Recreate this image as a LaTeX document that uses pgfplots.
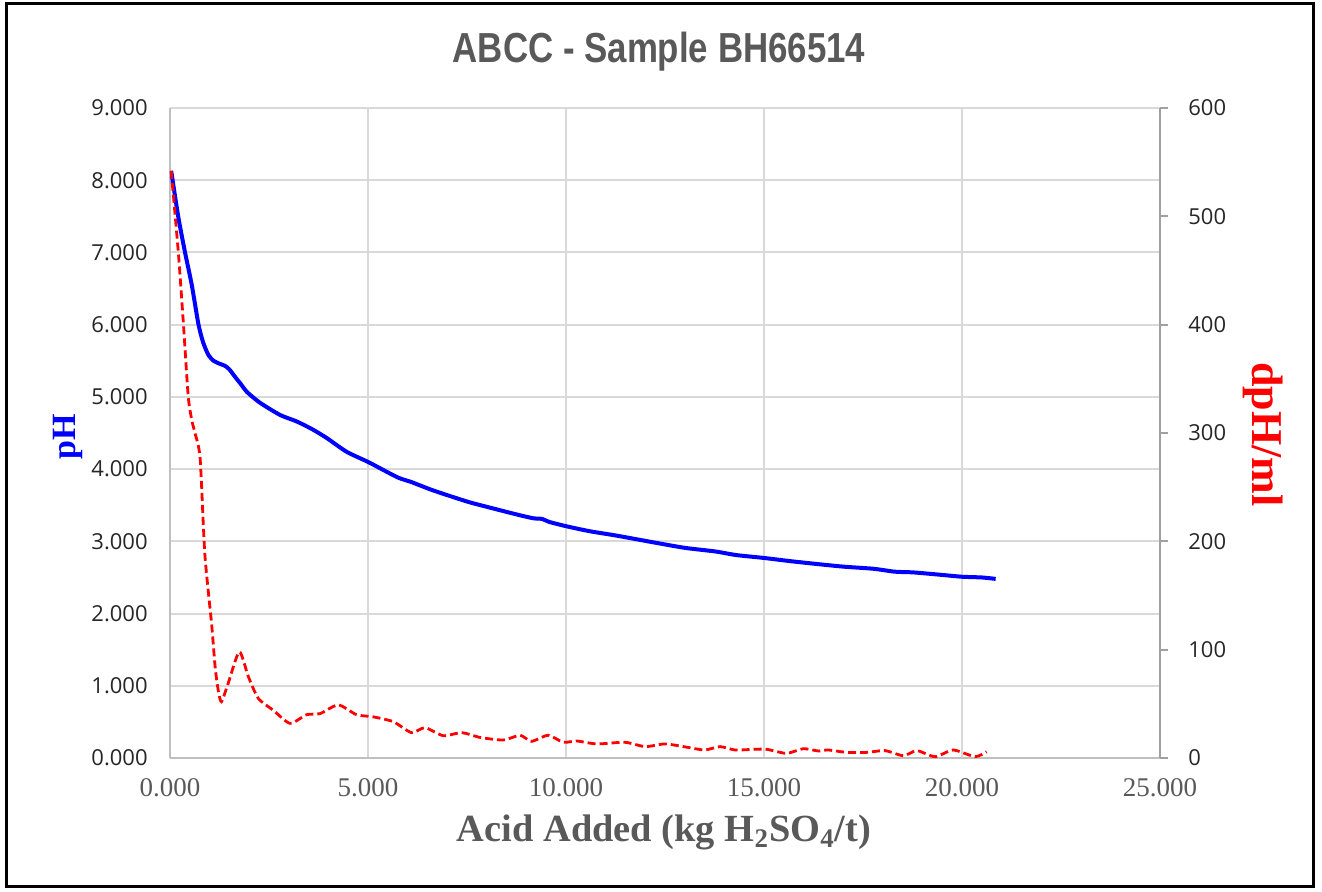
\documentclass[border=0pt]{standalone}
\usepackage{fontspec}
\setmainfont{Liberation Serif}
\newfontfamily\ticksans{Open Sans}
\newfontfamily\titlefont[FakeStretch=0.83]{Liberation Sans}
\usepackage{pgfplots}
\pgfplotsset{compat=1.18}

\definecolor{gridgray}{HTML}{D9D9D9}
\definecolor{axisgray}{HTML}{BFBFBF}
\definecolor{rightgray}{HTML}{A0A0A0}
\definecolor{textgray}{HTML}{595959}
\definecolor{tickdark}{HTML}{262626}

\begin{document}
\begin{tikzpicture}
\useasboundingbox (-85pt,-66.5pt) rectangle (576pt,379pt);
\draw[line width=1.5pt] (-81.5pt,-64pt) rectangle (571.5pt,377pt);

% primary axis: pH
\begin{axis}[
    at={(0,0)}, anchor=south west,
    width=495pt, height=325pt, scale only axis,
    xmin=0, xmax=25, ymin=0, ymax=9,
    xtick={0,5,...,25}, ytick={0,1,...,9},
    grid=major, grid style={gridgray, line width=1pt},
    axis x line*=bottom, axis y line*=left,
    axis line style={axisgray, line width=1pt, -},
    major tick length=0pt,
    /pgf/number format/assume math mode=true,
    xticklabel style={font=\fontsize{13.5}{15}\selectfont, text=textgray,
        anchor=north, inner sep=0pt, yshift=-10pt,
        /pgf/number format/.cd, fixed, fixed zerofill, precision=3},
    yticklabel style={font=\ticksans\fontsize{11}{13}\selectfont, text=tickdark,
        anchor=east, inner sep=0pt, xshift=-11pt,
        /pgf/number format/.cd, fixed, fixed zerofill, precision=3},
    title={ABCC - Sample BH66514},
    title style={font=\titlefont\bfseries\fontsize{21}{24}\selectfont, text=textgray,
        at={(axis description cs:0.494,1.086)}, anchor=center, yshift=0pt},
    every axis title shift=0pt,
    xlabel={Acid Added (kg H\textsubscript{2}SO\textsubscript{4}/t)},
    xlabel style={font=\bfseries\fontsize{19.2}{22}\selectfont, text=textgray,
        at={(axis description cs:0.499,-0.114)}, anchor=center},
    ylabel={pH},
    ylabel style={font=\bfseries\fontsize{17}{20}\selectfont, text=blue,
        at={(axis description cs:-0.103,0.494)}, anchor=center},
]
\addplot[color=blue, line width=2pt, smooth, tension=0.4] coordinates {
    (0.03,8.13) (0.21,7.49) (0.38,7.00) (0.55,6.55) (0.72,6.00)
    (0.84,5.75) (0.97,5.58) (1.10,5.50) (1.25,5.46) (1.39,5.43)
    (1.50,5.38) (1.64,5.28) (1.80,5.17) (1.94,5.07) (2.27,4.92)
    (2.78,4.75) (3.20,4.66) (3.60,4.55) (3.96,4.43) (4.46,4.24)
    (5.00,4.10) (5.38,3.99) (5.77,3.88) (6.10,3.82) (6.57,3.72)
    (7.00,3.64) (7.57,3.54) (8.20,3.45) (8.77,3.37) (9.17,3.32)
    (9.40,3.31) (9.57,3.27) (10.00,3.21) (10.60,3.14) (11.27,3.08)
    (12.27,2.98) (13.00,2.91) (13.77,2.86) (14.30,2.81) (15.00,2.77)
    (15.60,2.73) (16.27,2.69) (17.00,2.65) (17.77,2.62) (18.30,2.58)
    (18.77,2.57) (19.40,2.54) (20.00,2.51) (20.50,2.50) (20.85,2.48)
};
\end{axis}

% secondary axis: dpH/ml
\begin{axis}[
    at={(0,0)}, anchor=south west,
    width=495pt, height=325pt, scale only axis,
    xmin=0, xmax=25, ymin=0, ymax=600,
    ytick={0,100,...,600},
    axis x line=none, axis y line*=right,
    axis line style={rightgray, line width=1pt, -},
    tick align=outside, major tick length=4pt,
    tick style={rightgray, line width=1pt},
    /pgf/number format/assume math mode=true,
    yticklabel style={font=\ticksans\fontsize{11}{13}\selectfont, text=tickdark,
        anchor=west, inner sep=0pt, xshift=10pt},
    ylabel={dpH/ml},
    ylabel style={font=\bfseries\fontsize{22}{26}\selectfont, text=red,
        at={(axis description cs:1.104,0.498)}, anchor=center, rotate=180},
]
\addplot[color=red, line width=1.4pt, dash pattern=on 4pt off 2pt, smooth, tension=0.4] coordinates {
    (0.03,542) (0.21,467) (0.34,400) (0.46,334) (0.55,312)
    (0.63,300) (0.76,277) (0.88,188) (1.05,124) (1.14,84)
    (1.22,62) (1.30,52) (1.47,69) (1.75,98) (1.98,75)
    (2.23,55) (2.61,44) (3.03,32) (3.45,40) (3.79,41)
    (4.25,49) (4.71,40) (5.13,38) (5.64,33.5) (6.10,23.4)
    (6.44,28) (6.90,20.6) (7.37,23.4) (7.83,19) (8.42,16.6)
    (8.84,21) (9.13,15.4) (9.55,21) (9.93,14.5) (10.27,15.7)
    (10.78,13) (11.49,14.5) (12.00,10.5) (12.50,13) (13.05,10)
    (13.50,7.4) (13.89,10.5) (14.27,7.4) (14.73,8) (15.07,8)
    (15.57,4.3) (15.99,8.6) (16.37,6.5) (16.62,7.4) (17.09,5.2)
    (17.59,5.2) (18.06,6.8) (18.52,2.1) (18.86,6.8) (19.32,1.2)
    (19.78,7.4) (20.33,1.2) (20.62,5.8)
};
\end{axis}
\end{tikzpicture}
\end{document}
